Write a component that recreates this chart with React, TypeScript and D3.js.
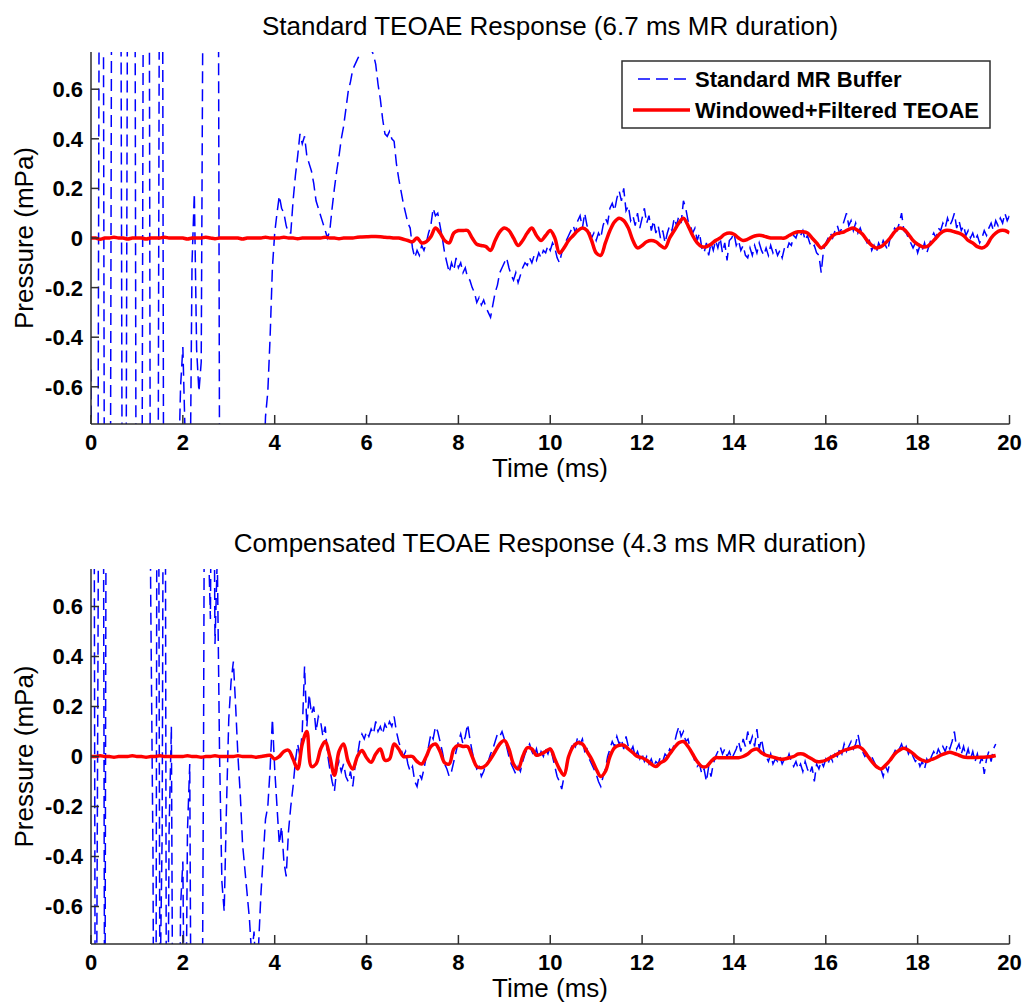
import * as d3 from "d3";

// time step of the sampled traces (ms)
const BUFFER_DT = 0.05;
const TEOAE_DT = 0.1;

const xTicks = [0, 2, 4, 6, 8, 10, 12, 14, 16, 18, 20];
const yTicks = [-0.6, -0.4, -0.2, 0, 0.2, 0.4, 0.6];
const yTickLabels = ["-0.6", "-0.4", "-0.2", "0", "0.2", "0.4", "0.6"];

const titleTop = "Standard TEOAE Response (6.7 ms MR duration)";
const titleBottom = "Compensated TEOAE Response (4.3 ms MR duration)";
const legendLabels = ["Standard MR Buffer", "Windowed+Filtered TEOAE"];

// top panel: standard MR buffer (one row = 1 ms)
const stdBuffer = [
  -0.53, -2.5, -3, -1.2, 2.8, 3, -2, -3, -3, 1.2, 3, 3, 3, 1.2, -2.8, -2, 1.4, 3, 3, 2,
  -3, -3, -2, 2, 3, 3, -2, -3, -3, -2, 2, 2, -3, -3, -2.5, -2, -1.8, -1.5, -1.0, -0.6,
  -0.44, -0.8, -1.5, -1.2, -0.1, 0.18, -0.45, -0.62, -0.5, 1.5, 3, 3, 3, 3, 3, 3, -1, -3, -3, -3,
  -3, -3, -3, -3, -3, -3, -3, -3, -3, -3, -3, -3, -3, -3, -2, -1.0, -0.72, -0.62, -0.4, -0.12,
  0.02, 0.1, 0.17, 0.12, 0.1, 0.05, 0.02, 0.02, 0.15, 0.25, 0.33, 0.42, 0.38, 0.41, 0.33, 0.3, 0.27, 0.22, 0.15, 0.12,
  0.09, 0.06, 0.03, 0.0, 0.03, 0.12, 0.2, 0.27, 0.33, 0.4, 0.45, 0.52, 0.59, 0.63, 0.68, 0.7, 0.72, 0.74, 0.77, 0.8,
  0.8, 0.78, 0.76, 0.74, 0.7, 0.62, 0.56, 0.48, 0.42, 0.41, 0.43, 0.4, 0.39, 0.3, 0.24, 0.19, 0.14, 0.1, 0.06, 0.04,
  -0.04, -0.08, -0.05, -0.07, -0.03, -0.05, -0.02, 0.02, 0.05, 0.12, 0.09, 0.1, 0.05, 0.0, -0.06, -0.1, -0.14, -0.1, -0.13, -0.08,
  -0.12, -0.1, -0.14, -0.12, -0.16, -0.17, -0.2, -0.22, -0.26, -0.24, -0.27, -0.25, -0.28, -0.3, -0.32, -0.27, -0.22, -0.19, -0.14, -0.12,
  -0.1, -0.08, -0.12, -0.15, -0.17, -0.14, -0.18, -0.15, -0.12, -0.1, -0.11, -0.08, -0.1, -0.07, -0.09, -0.06, -0.08, -0.05, -0.06, -0.03,
  -0.05, -0.02, -0.04, -0.08, -0.1, -0.06, -0.04, -0.01, 0.01, 0.03, 0.05, 0.02, 0.07, 0.09, 0.04, 0.1, 0.05, 0.03, 0.0, 0.02,
  -0.01, 0.02, 0.0, 0.05, 0.08, 0.06, 0.12, 0.14, 0.11, 0.16, 0.19, 0.15, 0.2, 0.11, 0.13, 0.07, 0.09, 0.05, 0.1, 0.04,
  0.08, 0.12, 0.06, 0.09, 0.03, 0.07, 0.02, 0.05, 0.0, 0.03, -0.02, 0.02, 0.05, 0.03, 0.08, 0.05, 0.09, 0.06, 0.15, 0.12,
  0.07, 0.05, 0.02, 0.04, -0.01, 0.02, -0.04, -0.06, -0.02, -0.07, -0.02, -0.05, -0.01, -0.04, 0.0, -0.06, -0.02, -0.09, -0.01, 0.0,
  0.02, -0.03, -0.01, -0.05, -0.03, -0.07, -0.08, -0.04, -0.07, -0.03, -0.06, -0.02, -0.05, -0.07, -0.04, -0.07, -0.03, -0.06, -0.04, -0.07,
  -0.05, -0.08, -0.04, -0.05, -0.02, -0.03, 0.01, 0.0, 0.03, 0.01, 0.03, -0.01, 0.01, -0.02, -0.04, -0.03, -0.06, -0.07, -0.14, -0.05,
  -0.02, 0.0, 0.02, 0.0, 0.03, 0.05, 0.02, 0.04, 0.07, 0.1, 0.05, 0.07, 0.03, 0.06, 0.02, 0.04, 0.01, 0.0, -0.02, -0.01,
  -0.05, -0.03, -0.06, -0.02, -0.04, -0.01, -0.03, -0.05, 0.0, 0.02, 0.04, 0.03, 0.06, 0.1, 0.03, 0.02, 0.0, -0.02, -0.04, -0.02,
  -0.06, -0.03, -0.05, -0.02, -0.06, -0.03, 0.0, 0.02, 0.0, 0.04, 0.03, 0.06, 0.04, 0.08, 0.05, 0.07, 0.1, 0.04, 0.07, 0.03,
  0.05, 0.01, 0.03, 0.0, 0.02, -0.01, 0.01, -0.02, 0.0, 0.03, 0.01, 0.04, 0.06, 0.03, 0.07, 0.05, 0.08, 0.06, 0.1, 0.07,
  0.09,
];

// top panel: windowed + filtered TEOAE (one row = 1 ms)
const stdTeoae = [
  0, 0, -0.005, 0, 0, 0.003, 0, 0, -0.004, 0,
  0, 0, -0.004, 0, 0, 0, 0.003, 0, 0, 0,
  0, -0.004, 0, 0, 0, 0.003, 0, -0.003, 0, 0,
  0, 0, 0, -0.004, 0, 0, 0, 0, 0.003, 0,
  0, 0, 0.003, 0, 0, -0.003, 0, 0, 0, 0,
  0, 0.003, 0, 0, -0.003, 0, 0, 0, 0.003, 0.004,
  0.005, 0.006, 0.006, 0.005, 0.003, 0.002, 0.0, 0.0, -0.005, -0.01,
  -0.015, 0.0, -0.02, -0.015, 0.005, 0.04, 0.02, -0.01, -0.02, 0.02,
  0.03, 0.03, 0.03, 0.0, -0.025, -0.03, -0.035, -0.05, -0.01, 0.025,
  0.04, 0.03, 0.0, -0.03, -0.01, 0.02, 0.04, 0.01, -0.01, 0.01,
  0.03, 0.0, -0.06, -0.04, -0.01, 0.01, 0.03, 0.04, 0.03, -0.01,
  -0.06, -0.07, -0.02, 0.03, 0.065, 0.08, 0.07, 0.04, -0.01, -0.04,
  -0.03, -0.015, -0.01, -0.015, -0.03, -0.04, 0.0, 0.03, 0.06, 0.08,
  0.05, 0.01, -0.02, -0.035, -0.035, -0.025, -0.01, 0.0, 0.015, 0.02,
  0.015, 0.0, -0.01, -0.005, 0.005, 0.01, 0.01, 0.005, 0.0, 0.0,
  0.0, 0.0, 0.01, 0.02, 0.025, 0.025, 0.02, 0.0, -0.02, -0.04,
  -0.025, 0.0, 0.015, 0.02, 0.025, 0.035, 0.04, 0.03, 0.015, -0.01,
  -0.03, -0.04, -0.035, -0.02, 0.0, 0.025, 0.04, 0.035, 0.015, -0.01,
  -0.025, -0.035, -0.035, -0.02, 0.0, 0.02, 0.03, 0.03, 0.025, 0.02,
  0.01, -0.01, -0.02, -0.035, -0.04, -0.03, 0.0, 0.02, 0.03, 0.03,
  0.02,
];

// bottom panel: compensated MR buffer (ends at 19.7 ms)
const compBuffer = [
  3, 3, -2, 0.3, 3, 3, -1.5, 3, 3, 3, 3, 3, 3, 3, 3, 3, 3, 3, 3, 3,
  3, 3, 3, 3, 3, 2, 0.65, -0.4, -3, 3, -1, -0.3, 3, -2, -0.3, 0.12, -2, -3, -2, -0.6,
  -0.42, -1.5, -0.3, -0.03, -2, -3, -3, -3, -2, 0, 3, 0.9, 0.55, 2, 0.45, 0.8, 0.0, -0.5, -0.62, -0.2,
  0.15, 0.3, 0.38, 0.2, 0.0, -0.15, -0.35, -0.45, -0.55, -0.65, -0.8, -0.7, -0.9, -0.75, -0.55, -0.4, -0.25, -0.2, -0.05, 0.15,
  -0.05, -0.2, -0.35, -0.28, -0.42, -0.48, -0.3, -0.2, -0.12, -0.02, 0.05, 0.0, 0.1, 0.36, 0.12, 0.25, 0.17, 0.2, 0.1, 0.16,
  0.14, 0.08, 0.12, 0.01, -0.05, -0.1, -0.14, -0.05, -0.02, -0.06, -0.03, -0.08, -0.1, -0.06, -0.12, -0.04, 0.0, 0.06, 0.09, 0.07,
  0.1, 0.08, 0.11, 0.09, 0.14, 0.1, 0.12, 0.09, 0.13, 0.11, 0.14, 0.12, 0.16, 0.1, 0.06, 0.03, 0.0, 0.02, -0.03, -0.06,
  -0.04, -0.1, -0.12, -0.07, -0.09, -0.05, 0.0, 0.04, 0.09, 0.07, 0.12, 0.1, 0.06, 0.02, -0.03, -0.05, -0.08, -0.06, -0.02, 0.02,
  0.06, 0.09, 0.05, 0.08, 0.13, 0.07, 0.02, -0.02, -0.05, -0.04, -0.08, -0.06, -0.03, -0.02, 0.01, 0.03, 0.06, 0.09, 0.08, 0.1,
  0.07, 0.04, 0.0, -0.03, -0.05, -0.07, -0.04, -0.06, -0.02, 0.01, 0.03, 0.05, 0.02, 0.0, 0.03, -0.01, 0.02, 0.0, 0.03, 0.01,
  0.04, 0.0, -0.04, -0.08, -0.1, -0.13, -0.08, -0.04, 0.0, 0.03, 0.06, 0.04, 0.08, 0.05, 0.07, 0.02, 0.03, -0.01, -0.03, -0.05,
  -0.07, -0.1, -0.12, -0.08, -0.05, 0.0, 0.03, 0.06, 0.04, 0.08, 0.05, 0.07, 0.03, 0.08, 0.04, 0.02, 0.04, 0.0, 0.02, -0.01,
  0.01, -0.02, 0.0, -0.03, -0.01, -0.04, -0.02, -0.03, 0.0, -0.02, 0.01, 0.0, 0.03, 0.02, 0.05, 0.09, 0.12, 0.08, 0.1, 0.06,
  0.07, 0.03, 0.01, -0.02, -0.04, -0.03, -0.07, -0.05, -0.1, -0.04, -0.08, -0.03, 0.0, 0.02, 0.04, 0.01, 0.03, 0.0, 0.02, -0.01,
  0.01, 0.03, 0.06, 0.02, 0.07, 0.04, 0.1, 0.05, 0.08, 0.04, 0.11, 0.03, 0.07, 0.02, 0.0, -0.02, 0.01, -0.03, -0.01, -0.02,
  0.0, -0.03, -0.01, -0.02, 0.01, -0.02, -0.04, -0.02, -0.05, -0.03, -0.06, -0.02, -0.05, -0.07, -0.04, -0.1, -0.03, -0.05, -0.02, -0.04,
  -0.01, -0.03, 0.0, -0.02, 0.01, 0.0, 0.03, 0.01, 0.05, 0.02, 0.04, 0.06, 0.03, 0.05, 0.09, 0.04, 0.02, 0.0, 0.01, -0.01,
  0.0, -0.02, -0.04, -0.06, -0.05, -0.08, -0.04, -0.06, -0.02, 0.0, 0.02, 0.04, 0.03, 0.05, 0.02, 0.04, 0.01, 0.03, 0.0, -0.02,
  -0.01, -0.04, -0.02, -0.05, -0.01, -0.03, 0.0, 0.02, 0.0, 0.03, 0.01, 0.04, 0.02, 0.05, 0.03, 0.06, 0.1, 0.03, 0.05, 0.01,
  0.04, 0.0, 0.03, -0.01, 0.02, -0.02, 0.01, -0.03, 0.0, -0.07, -0.01, 0.02, -0.02, 0.03, 0.05,
];

// bottom panel: windowed + filtered TEOAE (ends at 19.7 ms)
const compTeoae = [
  0, 0, 0.003, 0, 0, -0.003, 0, 0, 0, 0.003,
  0, 0, -0.003, 0, 0, 0.003, 0, 0, 0, 0,
  0, 0.003, 0, 0, -0.003, 0, 0, 0.003, 0, 0,
  0, 0, 0.003, 0, 0, 0, -0.003, 0, 0.003, 0.005,
  -0.01, 0.0, 0.02, 0.025, -0.01, -0.05, 0.05, 0.1, -0.04, -0.03,
  0.03, 0.06, 0.0, -0.075, 0.02, 0.05, -0.02, -0.05, 0.0, 0.024,
  -0.005, -0.023, 0.01, 0.03, -0.015, -0.01, 0.05, 0.03, 0.0, 0.0,
  0.0, -0.02, -0.03, 0.0, 0.04, 0.05, 0.02, -0.025, -0.03, 0.03,
  0.045, 0.04, 0.04, 0.0, -0.04, -0.045, -0.035, -0.01, 0.02, 0.05,
  0.064, 0.03, -0.03, -0.05, 0.0, 0.035, 0.03, 0.005, 0.01, 0.02,
  0.03, -0.01, -0.05, -0.075, 0.0, 0.04, 0.055, 0.05, 0.02, -0.01,
  -0.05, -0.08, -0.06, 0.0, 0.035, 0.045, 0.045, 0.03, 0.015, 0.0,
  -0.005, -0.015, -0.03, -0.04, -0.025, -0.015, 0.01, 0.035, 0.055, 0.06,
  0.04, 0.01, -0.02, -0.04, -0.04, -0.02, -0.005, -0.005, -0.005, -0.005,
  -0.005, -0.005, 0.0, 0.01, 0.025, 0.03, 0.015, 0.005, 0.0, -0.005,
  -0.01, -0.01, -0.005, 0.0, 0.01, 0.01, 0.0, -0.01, -0.02, -0.02,
  -0.015, -0.005, 0.005, 0.015, 0.025, 0.03, 0.035, 0.04, 0.03, 0.005,
  -0.02, -0.04, -0.05, -0.035, -0.015, 0.01, 0.025, 0.033, 0.025, 0.012,
  -0.005, -0.015, -0.02, -0.012, -0.005, 0.005, 0.012, 0.017, 0.012, 0.005,
  -0.002, -0.004, -0.004, -0.004, -0.003, -0.002, 0.0, 0.004,
];

const FONT = "'Liberation Sans', Arial, Helvetica, sans-serif";
const AXIS_COLOR = "#2e2e2e";
const BLUE = "#0000ff";
const RED = "#ff0000";

function Panel({ id, title, buffer, teoae, top, bottom, legend }) {
  const left = 91;
  const right = 1009.5;
  const x = d3.scaleLinear().domain([0, 20]).range([left, right]);
  const y = d3.scaleLinear().domain([-0.75, 0.75]).range([bottom, top]);

  const blueLine = d3
    .line<number>()
    .x((_, i) => x(i * BUFFER_DT))
    .y((d) => y(d));
  const redLine = d3
    .line<number>()
    .x((_, i) => x(i * TEOAE_DT))
    .y((d) => y(d))
    .curve(d3.curveCatmullRom);

  return (
    <g>
      <defs>
        <clipPath id={id}>
          <rect x={left} y={top} width={right - left} height={bottom - top} />
        </clipPath>
      </defs>

      <text x={550} y={top - 17} textAnchor="middle" fontSize={26} fontFamily={FONT}>
        {title}
      </text>

      <g clipPath={`url(#${id})`}>
        <path d={blueLine(buffer) || ""} fill="none" stroke={BLUE} strokeWidth={1.5} strokeDasharray="12 6" />
        <path d={redLine(teoae) || ""} fill="none" stroke={RED} strokeWidth={3.5} strokeLinejoin="round" />
      </g>

      {/* axes: left + bottom only, ticks pointing in */}
      <line x1={left} x2={left} y1={top} y2={bottom} stroke={AXIS_COLOR} strokeWidth={1.5} />
      <line x1={left} x2={right} y1={bottom} y2={bottom} stroke={AXIS_COLOR} strokeWidth={1.5} />
      {xTicks.map((t) => (
        <g key={"x" + t}>
          <line x1={x(t)} x2={x(t)} y1={bottom} y2={bottom - 9} stroke={AXIS_COLOR} strokeWidth={1.5} />
          <text x={x(t)} y={bottom + 26} textAnchor="middle" fontSize={22} fontWeight="bold" fontFamily={FONT}>
            {t}
          </text>
        </g>
      ))}
      {yTicks.map((v, i) => (
        <g key={"y" + v}>
          <line x1={left} x2={left + 8} y1={y(v)} y2={y(v)} stroke={AXIS_COLOR} strokeWidth={1.5} />
          <text x={83} y={y(v)} dy="0.36em" textAnchor="end" fontSize={22} fontWeight="bold" fontFamily={FONT}>
            {yTickLabels[i]}
          </text>
        </g>
      ))}

      <text x={550} y={bottom + 53} textAnchor="middle" fontSize={26} fontFamily={FONT}>
        Time (ms)
      </text>
      <text
        transform={`translate(33,${(top + bottom) / 2}) rotate(-90)`}
        textAnchor="middle"
        fontSize={26}
        fontFamily={FONT}
      >
        Pressure (mPa)
      </text>

      {legend && (
        <g>
          <rect x={622} y={61} width={368} height={67} fill="#fff" stroke={AXIS_COLOR} strokeWidth={1.5} />
          <line x1={638} x2={690} y1={79} y2={79} stroke={BLUE} strokeWidth={1.5} strokeDasharray="12 6" />
          <line x1={633} x2={690} y1={110} y2={110} stroke={RED} strokeWidth={3.5} />
          {legendLabels.map((l, i) => (
            <text key={l} x={695} y={i === 0 ? 79 : 110} dy="0.36em" fontSize={22} fontWeight="bold" fontFamily={FONT}>
              {l}
            </text>
          ))}
        </g>
      )}
    </g>
  );
}

export default function App() {
  return (
    <svg
      width={1024}
      height={1002}
      style={{ position: "absolute", left: 0, top: 0, background: "#fff" }}
    >
      <Panel id="clipTop" title={titleTop} buffer={stdBuffer} teoae={stdTeoae} top={52} bottom={424} legend />
      <Panel id="clipBottom" title={titleBottom} buffer={compBuffer} teoae={compTeoae} top={569} bottom={944} legend={false} />
    </svg>
  );
}
